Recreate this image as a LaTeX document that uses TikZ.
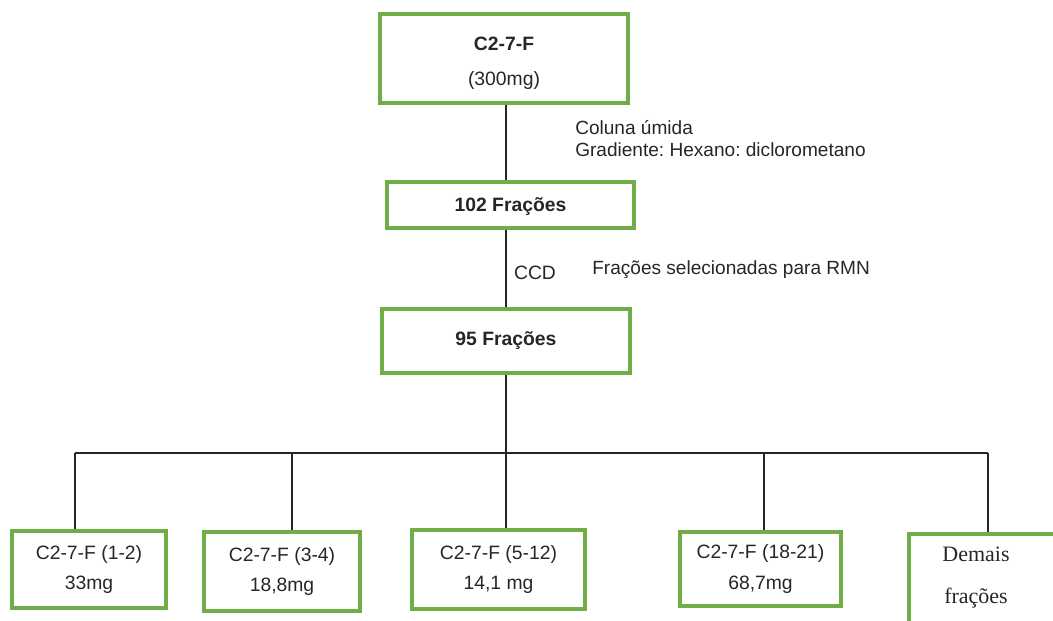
\documentclass[tikz,border=0pt]{standalone}
\usepackage{fontspec}
\setmainfont{Liberation Sans}
\newfontfamily\timesfont{Liberation Serif}
\usetikzlibrary{positioning}
\definecolor{verde}{RGB}{112,173,71}
\frenchspacing

\begin{document}
\begin{tikzpicture}[x=0.75pt, y=-0.75pt,
    every node/.style={font=\fontsize{14.5}{17}\selectfont, text=black!85},
    caixa/.style={draw=verde, line width=3pt, align=center, inner sep=0pt},
    ligacao/.style={line width=1.1pt, black!85}]
    \useasboundingbox (0,0) rectangle (1053,621);
    \clip (0,0) rectangle (1053,621);

    % coluna e CCD
    \node[caixa, minimum width=186pt, minimum height=67pt, text height=43pt] (amostra) at (504,58.5) {\textbf{C2-7-F}\\[9pt](300mg)};
    \node[caixa, minimum width=185pt, minimum height=34.5pt, text height=13pt] (f102) at (510.5,205) {\textbf{102 Frações}};
    \node[caixa, minimum width=186pt, minimum height=48pt] (f95) at (506,341) {\textbf{95 Frações}};

    \node[anchor=west, align=left, inner sep=0pt, font=\fontsize{14.3}{16.5}\selectfont] (coluna) at (575,139) {Coluna úmida\\Gradiente: Hexano: diclorometano};
    \node (ccd) at (535,273) {CCD};
    \node[anchor=west, inner sep=0pt, font=\fontsize{14.3}{17}\selectfont] (rmn) at (592,270) {Frações selecionadas para RMN};

    % subfracoes
    \node[caixa, minimum width=115.5pt, minimum height=57.75pt] (s12) at (89,569.5) {C2-7-F (1-2)\\[6pt]33mg};
    \node[caixa, minimum width=117pt, minimum height=59.25pt] (s34) at (282,571.5) {C2-7-F (3-4)\\[6pt]18,8mg};
    \node[caixa, minimum width=129.75pt, minimum height=59.25pt] (s512) at (498.5,569.5) {C2-7-F (5-12)\\[6pt]14,1 mg};
    \node[caixa, minimum width=120.75pt, minimum height=55.5pt] (s1821) at (760.5,569) {C2-7-F (18-21)\\[6pt]68,7mg};
    \node[caixa, minimum width=120.75pt, minimum height=109.5pt] (demais) at (989.5,607) {};
    \node[align=center, font=\timesfont\fontsize{16.5}{31}\selectfont] (demaistxt) at (976,577.5) {Demais\\frações};

    % ligacoes
    \draw[ligacao] (f95.north |- amostra.south) -- (f95.north |- f102.north);
    \draw[ligacao] (f95.north |- f102.south) -- (f95.north);
    \coordinate (barra) at (506,453);
    \coordinate (r1) at (75,453);
    \coordinate (r2) at (292,453);
    \coordinate (r3) at (506,453);
    \coordinate (r4) at (764,453);
    \coordinate (r5) at (988,453);
    \draw[ligacao] (f95.south) -- (barra);
    \draw[ligacao] (r1) -- (r5);
    \draw[ligacao] (r1) -- (r1 |- s12.north);
    \draw[ligacao] (r2) -- (r2 |- s34.north);
    \draw[ligacao] (r3) -- (r3 |- s512.north);
    \draw[ligacao] (r4) -- (r4 |- s1821.north);
    \draw[ligacao] (r5) -- (r5 |- demais.north);
\end{tikzpicture}
\end{document}
